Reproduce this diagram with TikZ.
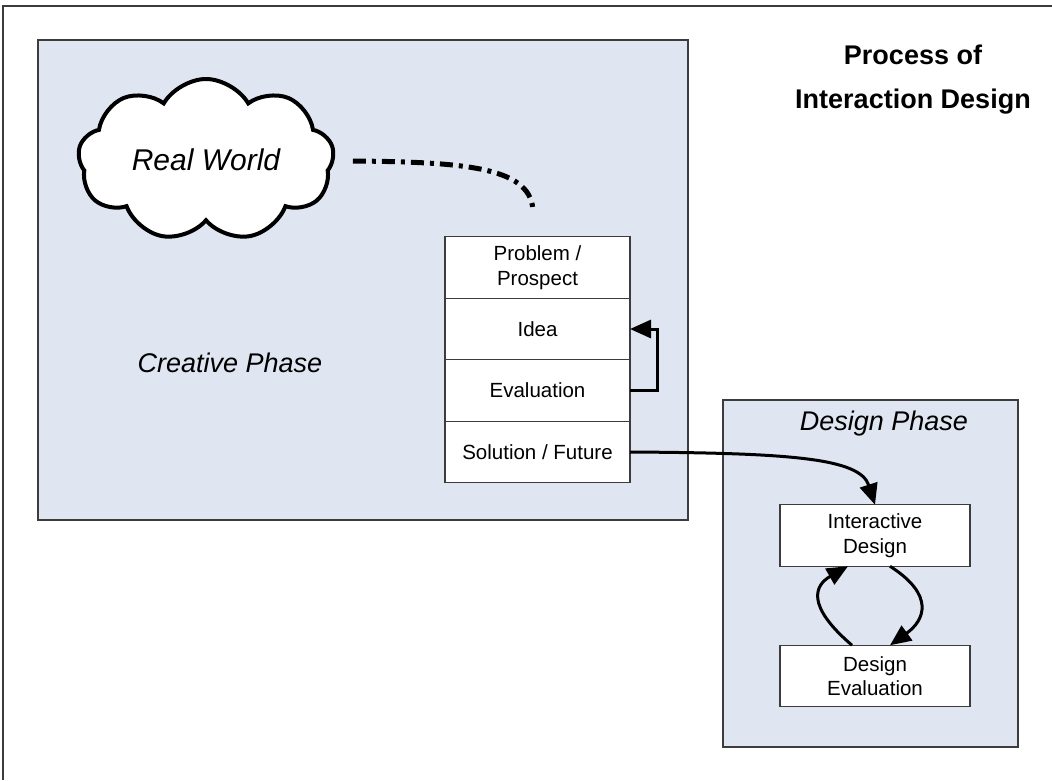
\documentclass[tikz,border=0pt]{standalone}
\usepackage{fontspec}
\setmainfont{Liberation Sans}
\usetikzlibrary{arrows.meta,positioning,shapes.symbols}
\definecolor{phasefill}{HTML}{DFE6F1}
\definecolor{boxline}{HTML}{3C3C3C}
\tikzset{
  phase/.style={draw=boxline,line width=1.3pt,fill=phasefill},
  stepbox/.style={draw=boxline,line width=1.1pt,fill=white,minimum width=185pt,
    minimum height=61.5pt,align=center,inner sep=0pt,outer sep=0pt,
    font=\fontsize{20.5}{24.5}\selectfont},
  arr/.style={line width=3pt,-{Triangle[length=21pt,width=18pt]}},
}

\begin{document}
\begin{tikzpicture}[x=1pt,y=-1pt]
    \useasboundingbox (0,0) rectangle (1052,780);
    \draw[boxline,line width=1.2pt] (3,780) -- (3,6) -- (1052,6);
    % phases
    \draw[phase] (38,40) rectangle (688,520);
    \draw[phase] (723,400) rectangle (1018,747);
    \node[align=center,font=\fontsize{27}{44}\selectfont\bfseries] (T) at (913,80) {Process of\\Interaction Design};
    \node[font=\fontsize{27}{32}\selectfont\itshape] (CP) at (230,363) {Creative Phase};
    \node[font=\fontsize{27}{32}\selectfont\itshape] (DP) at (884,424) {Design Phase};
    % real world
    \node[cloud,cloud puffs=9,cloud puff arc=120,cloud ignores aspect,draw,line width=4pt,fill=white,
      minimum width=256pt,minimum height=162pt,font=\fontsize{30}{36}\selectfont\itshape] (RW) at (206,160) {Real World};
    % creative steps
    \node[stepbox] (P) at (537.5,267.5) {Problem /\\Prospect};
    \node[stepbox,below=0pt of P] (I) {Idea};
    \node[stepbox,below=0pt of I] (E) {Evaluation};
    \node[stepbox,below=0pt of E] (S) {Solution / Future};
    \coordinate[above=24pt of P.north,xshift=-4.5pt] (RWend);
    \draw[line width=5pt,dash pattern=on 13pt off 6pt on 4pt off 6pt]
      ([xshift=18pt,yshift=-1pt]RW.east) .. controls (470,162) and (533,168) .. (RWend);
    \draw[arr] (E.east) -- ++(27,0) |- (I.east);
    % design steps
    \node[stepbox,minimum width=190pt] (ID) at (875,535.5) {Interactive\\Design};
    \node[stepbox,minimum width=190pt] (DE) at (875,676) {Design\\Evaluation};
    \draw[arr] (S.east) .. controls (790,453) and (860,458) .. (ID.north);
    \draw[arr] ([xshift=-23pt]DE.north) .. controls (805,605) and (815,585) .. ([xshift=-27pt]ID.south);
    \draw[arr] ([xshift=15pt]ID.south) .. controls (935,595) and (925,620) .. ([xshift=15pt]DE.north);
\end{tikzpicture}
\end{document}
